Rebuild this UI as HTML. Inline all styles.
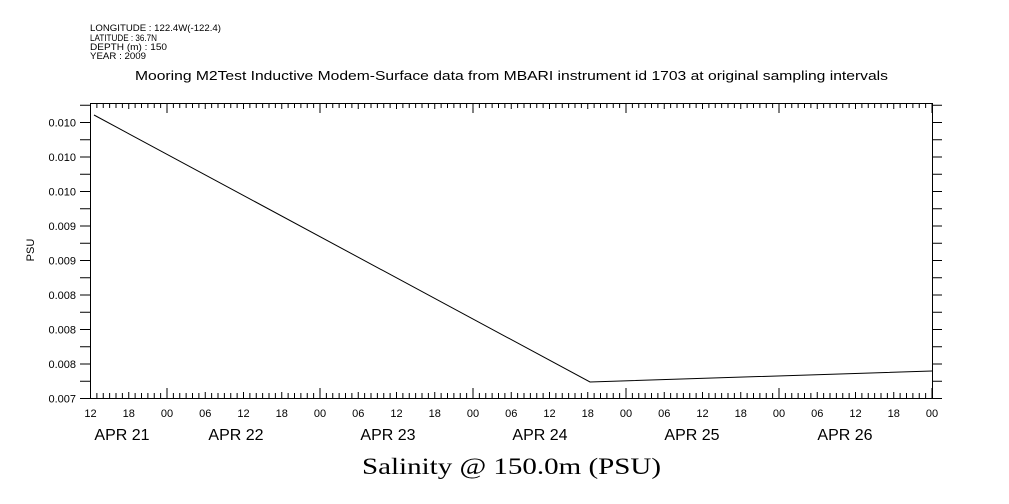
<!DOCTYPE html>
<html><head><meta charset="utf-8"><style>
body{margin:0;background:#fff}
svg{display:block}
text{font-family:"Liberation Sans",sans-serif;fill:#000}
</style></head><body>
<svg width="1009" height="504" viewBox="0 0 1009 504">
<g font-size="9">
<text x="90" y="31" textLength="131" lengthAdjust="spacingAndGlyphs">LONGITUDE : 122.4W(-122.4)</text>
<text x="90" y="41" textLength="67" lengthAdjust="spacingAndGlyphs">LATITUDE : 36.7N</text>
<text x="90" y="50" textLength="77" lengthAdjust="spacingAndGlyphs">DEPTH (m) : 150</text>
<text x="90" y="59" textLength="56" lengthAdjust="spacingAndGlyphs">YEAR : 2009</text>
</g>
<text x="135" y="80" font-size="13" textLength="753" lengthAdjust="spacingAndGlyphs">Mooring M2Test Inductive Modem-Surface data from MBARI instrument id 1703 at original sampling intervals</text>
<rect x="90.5" y="103.5" width="842" height="295" fill="none" stroke="#000"/>
<g id="t" stroke="#000" stroke-width="1"></g>
<polyline points="94,115 590,382 932,371" fill="none" stroke="#000"/>
<g font-size="11" text-anchor="end" id="yl"></g>
<g font-size="11" text-anchor="middle" id="xl"></g>
<g font-size="16" text-anchor="middle">
<text x="122" y="440">APR 21</text><text x="236" y="440">APR 22</text><text x="388" y="440">APR 23</text><text x="540" y="440">APR 24</text><text x="692" y="440">APR 25</text><text x="845" y="440">APR 26</text>
</g>
<text x="362" y="474" font-size="23" textLength="299" lengthAdjust="spacingAndGlyphs" style="font-family:'Liberation Serif',serif">Salinity @ 150.0m (PSU)</text>
<text transform="translate(34,250) rotate(-90)" font-size="11" text-anchor="middle">PSU</text>
</svg>
<script>
var ns="http://www.w3.org/2000/svg",t=document.getElementById('t'),yl=document.getElementById('yl'),xl=document.getElementById('xl');
function L(a,b,c,d){var l=document.createElementNS(ns,'line');l.setAttribute('x1',a);l.setAttribute('y1',b);l.setAttribute('x2',c);l.setAttribute('y2',d);t.appendChild(l);}
function T(g,x,y,s){var e=document.createElementNS(ns,'text');e.setAttribute('x',x);e.setAttribute('y',y);e.textContent=s;g.appendChild(e);}
for(var h=0;h<=132;h++){var x=90.5+h*153/24;var hr=(12+h)%24;var maj=hr==0;var len=maj?10:(hr%6==0?6:5);L(x,398,x,398-len);L(x,103,x,103+len);
if(hr%6==0){var s=(hr<10?'0':'')+hr;T(xl,x,417,s);}}
var labs=['0.010','0.010','0.010','0.009','0.009','0.008','0.008','0.008','0.007'];
for(var i=0;i<=17;i++){var y=398.5-i*17.25;if(y<104)break;L(80,y,90,y);L(932,y,942,y);}
for(var i=0;i<9;i++){var y=398.5-(8-i)*34.5;T(yl,76,y+4,labs[i]);}
</script>
</body></html>
